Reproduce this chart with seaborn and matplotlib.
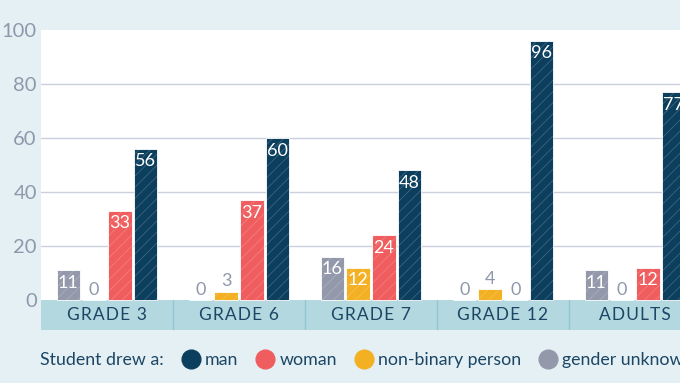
import matplotlib
matplotlib.use("Agg")
import matplotlib.pyplot as plt
from matplotlib.lines import Line2D
import seaborn as sns
import pandas as pd

# ---- data ----
categories = ["GRADE 3", "GRADE 6", "GRADE 7", "GRADE 12", "ADULTS"]
series = ["gender unknown", "non-binary person", "woman", "man"]
gender_unknown = [11, 0, 16, 0, 11]
non_binary = [0, 3, 12, 4, 0]
woman = [33, 37, 24, 0, 12]
man = [56, 60, 48, 96, 77]
yticks = [0, 20, 40, 60, 80, 100]
legend_order = ["man", "woman", "non-binary person", "gender unknown"]

colors = {
    "gender unknown": "#9399ab",
    "non-binary person": "#f3b023",
    "woman": "#f05d5e",
    "man": "#0c3e5e",
}

rows = []
for s, vals in zip(series, [gender_unknown, non_binary, woman, man]):
    for c, v in zip(categories, vals):
        rows.append({"group": c, "series": s, "value": v})
df = pd.DataFrame(rows)

sns.set_theme(style="white")
plt.rcParams["font.family"] = ["Lato", "DejaVu Sans"]
plt.rcParams["hatch.linewidth"] = 0.6

BG = "#e5f0f5"
NAVY = "#1b4664"
GREY = "#8f97aa"

fig = plt.figure(figsize=(6.8, 3.83), dpi=100, facecolor=BG)
ax = fig.add_axes([41 / 680, 53 / 383, 660 / 680, 300 / 383])
ax.set_facecolor("white")

sns.barplot(data=df, x="group", y="value", hue="series", order=categories,
            hue_order=series, palette=colors, width=0.78, gap=0.08,
            saturation=1, edgecolor="white", linewidth=0.6, hatch="///",
            legend=False, ax=ax, zorder=3)

# hatch colour: faint white lines
for p in ax.patches:
    p._hatch_color = (1, 1, 1, 0.2)

ax.set_xlim(-0.5, len(categories) - 0.5)
ax.set_ylim(-11.11, 100)

# gridlines
for y in yticks[1:-1]:
    ax.axhline(y, color="#cbd0dc", lw=1.0, zorder=1)

# category band
ax.axhspan(-11.11, 0, color="#b3d8e0", zorder=2, lw=0)
for i in range(1, len(categories)):
    ax.plot([i - 0.5, i - 0.5], [-11.11, 0], color="#93c5d1", lw=1.0, zorder=2.5)
for i, c in enumerate(categories):
    spaced = "\u200a".join(c)
    ax.text(i, -5.7, spaced, ha="center", va="center", color=NAVY, fontsize=12.5,
            zorder=4)

# value labels
for cont, s in zip(ax.containers, series):
    for bar, v in zip(cont, df[df.series == s].value):
        x = bar.get_x() + bar.get_width() / 2
        if v >= 10:
            ax.annotate(str(v), (x, v), xytext=(0, -9), textcoords="offset points",
                        ha="center", va="center", color="white", fontsize=13,
                        zorder=5)
        else:
            ax.annotate(str(v), (x, v), xytext=(0, 7.5), textcoords="offset points",
                        ha="center", va="center", color=GREY, fontsize=13,
                        zorder=5)

ax.set_yticks(yticks)
ax.set_yticklabels([str(t) for t in yticks])
ax.tick_params(axis="y", length=0, pad=3, labelsize=14.5, labelcolor=GREY)
ax.set_xticks([])
ax.set_xlabel("")
ax.set_ylabel("")
for sp in ax.spines.values():
    sp.set_visible(False)

# legend
ly = 1 - 360 / 383
fig.text(40 / 680, ly, "Student drew a:", ha="left", va="center",
         color=NAVY, fontsize=12.8)
handles = [Line2D([], [], marker="o", linestyle="none", markersize=13.5,
                  markerfacecolor=colors[s], markeredgecolor=colors[s])
           for s in legend_order]
leg = fig.legend(handles, legend_order, loc="center left",
                 bbox_to_anchor=(181 / 680, ly), ncol=4, frameon=False,
                 fontsize=12.8, handlelength=1.08, handletextpad=0.28,
                 columnspacing=0.95, borderpad=0, borderaxespad=0)
for t in leg.get_texts():
    t.set_color(NAVY)

fig.savefig("out.png", dpi=100, facecolor=BG)
